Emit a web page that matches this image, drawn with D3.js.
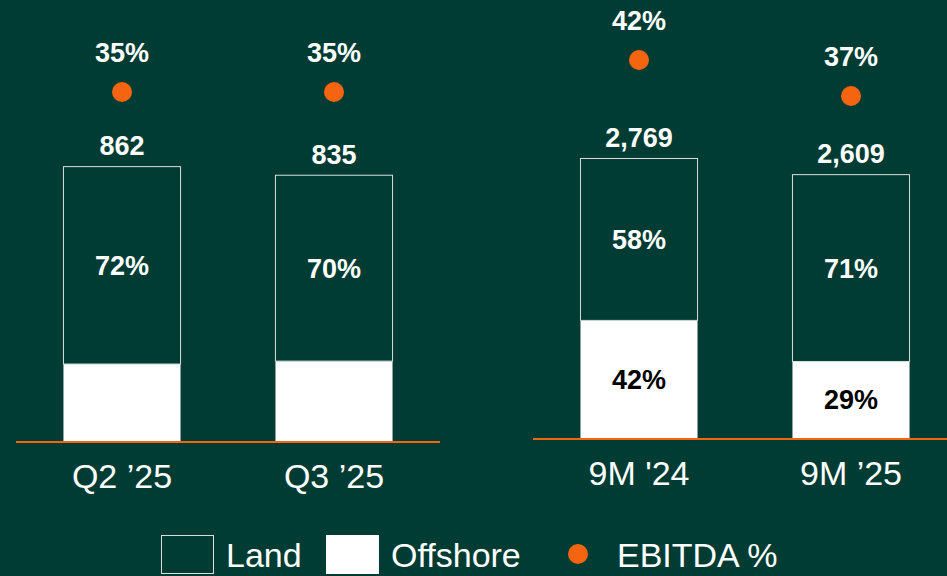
<!DOCTYPE html>
<html>
<head>
<meta charset="utf-8">
<script src="https://cdn.jsdelivr.net/npm/d3@7"></script>
<style>
  html, body { margin: 0; padding: 0; background: #013c34; }
  svg { display: block; }
</style>
</head>
<body>
<svg id="chart" width="947" height="576"></svg>
<script>
// chart values
const quarterPeriods = ['Q2 \u201925', 'Q3 \u201925'];
const ytdPeriods = ['9M \'24', '9M \u201925'];
const quarterTotals = [862, 835];
const ytdTotals = [2769, 2609];
const quarterLand = [72, 70];
const ytdLand = [58, 71];
const quarterOffshore = [28, 30];
const ytdOffshore = [42, 29];
const quarterEbitda = [35, 35];
const ytdEbitda = [42, 37];
const legendItems = ['Land', 'Offshore', 'EBITDA %'];

const bg = '#013c34';
const orange = '#f5640f';
const svg = d3.select('#chart');
const boldFont = 'bold 27px "Liberation Sans", Arial, sans-serif';
const plainFont = '34px "Liberation Sans", Arial, sans-serif';

svg.append('rect').attr('width', 947).attr('height', 576).attr('fill', bg);

function panel(opts) {
  const rows = opts.periods.map((p, i) => ({
    period: p,
    total: opts.totals[i],
    land: opts.land[i],
    offshore: opts.offshore[i],
    ebitda: opts.ebitda[i]
  }));

  const x = d3.scaleBand()
    .domain(opts.periods)
    .range(opts.xRange)
    .paddingInner(0.443)
    .paddingOuter(0.2215);
  const y = d3.scaleLinear().domain(opts.yDomain).range(opts.yRange);
  const e = d3.scaleLinear().domain(opts.eDomain).range(opts.eRange);
  const mid = d => x(d.period) + x.bandwidth() / 2;
  const split = d => y(d.total * d.offshore / 100);

  const g = svg.append('g');
  const bars = g.selectAll('.bar').data(rows).join('g').attr('class', 'bar');

  // offshore (bottom, filled white)
  bars.append('rect')
    .attr('x', d => x(d.period) + 0.5)
    .attr('y', split)
    .attr('width', x.bandwidth() - 1)
    .attr('height', d => y(0) - split(d))
    .attr('fill', '#fff');

  // land (top, outlined)
  bars.append('rect')
    .attr('x', d => x(d.period) + 0.5)
    .attr('y', d => y(d.total) + 0.5)
    .attr('width', x.bandwidth() - 1)
    .attr('height', d => split(d) - y(d.total) - 0.5)
    .attr('fill', bg)
    .attr('stroke', '#d6dfdc')
    .attr('stroke-width', 1);

  // land share label
  bars.append('text')
    .attr('x', mid)
    .attr('y', d => (y(d.total) + split(d)) / 2)
    .attr('dy', '0.36em')
    .attr('text-anchor', 'middle')
    .attr('fill', '#fff')
    .style('font', boldFont)
    .text(d => d.land + '%');

  if (opts.offshoreLabels) {
    bars.append('text')
      .attr('x', mid)
      .attr('y', d => (y(0) + split(d)) / 2)
      .attr('dy', '0.36em')
      .attr('text-anchor', 'middle')
      .attr('fill', '#000')
      .style('font', boldFont)
      .text(d => d.offshore + '%');
  }

  // totals
  bars.append('text')
    .attr('x', mid)
    .attr('y', d => y(d.total) - 11)
    .attr('text-anchor', 'middle')
    .attr('fill', '#fff')
    .style('font', boldFont)
    .text(d => d3.format(',')(d.total));

  // EBITDA dots
  bars.append('circle')
    .attr('cx', mid)
    .attr('cy', d => e(d.ebitda))
    .attr('r', 10)
    .attr('fill', orange);

  bars.append('text')
    .attr('x', mid)
    .attr('y', d => e(d.ebitda) - 30)
    .attr('text-anchor', 'middle')
    .attr('fill', '#fff')
    .style('font', boldFont)
    .text(d => d.ebitda + '%');

  // baseline
  g.append('line')
    .attr('x1', opts.xRange[0]).attr('x2', opts.lineEnd)
    .attr('y1', y(0) + 1).attr('y2', y(0) + 1)
    .attr('stroke', orange)
    .attr('stroke-width', 2);

  // category axis labels
  const axis = d3.axisBottom(x).tickSize(0).tickPadding(0);
  const ax = g.append('g')
    .attr('transform', 'translate(0,' + (y(0) + 23) + ')')
    .call(axis);
  ax.select('.domain').remove();
  ax.selectAll('text')
    .attr('fill', '#fff')
    .attr('dy', '0.72em')
    .style('font', plainFont);
}

panel({
  periods: quarterPeriods, totals: quarterTotals, land: quarterLand,
  offshore: quarterOffshore, ebitda: quarterEbitda,
  xRange: [16, 440], lineEnd: 440,
  yDomain: [0, 900], yRange: [441, 154],
  eDomain: [30, 40], eRange: [128, 56],
  offshoreLabels: false
});

panel({
  periods: ytdPeriods, totals: ytdTotals, land: ytdLand,
  offshore: ytdOffshore, ebitda: ytdEbitda,
  xRange: [533, 957], lineEnd: 947,
  yDomain: [0, 3000], yRange: [438, 134.6],
  eDomain: [30, 45], eRange: [146.4, 38.4],
  offshoreLabels: true
});

// legend
const legend = svg.append('g');
const legendX = [161, 326, 568];
const legendTextX = [226, 391, 617];
legendItems.forEach((name, i) => {
  if (i === 0) {
    legend.append('rect').attr('x', legendX[i] + 0.5).attr('y', 535.5)
      .attr('width', 52).attr('height', 38)
      .attr('fill', bg).attr('stroke', '#d6dfdc');
  } else if (i === 1) {
    legend.append('rect').attr('x', legendX[i]).attr('y', 535)
      .attr('width', 53).attr('height', 39).attr('fill', '#fff');
  } else {
    legend.append('circle').attr('cx', 578).attr('cy', 554).attr('r', 10)
      .attr('fill', orange);
  }
  legend.append('text')
    .attr('x', legendTextX[i])
    .attr('y', 567)
    .attr('fill', '#fff')
    .style('font', plainFont)
    .text(name);
});
</script>
</body>
</html>
